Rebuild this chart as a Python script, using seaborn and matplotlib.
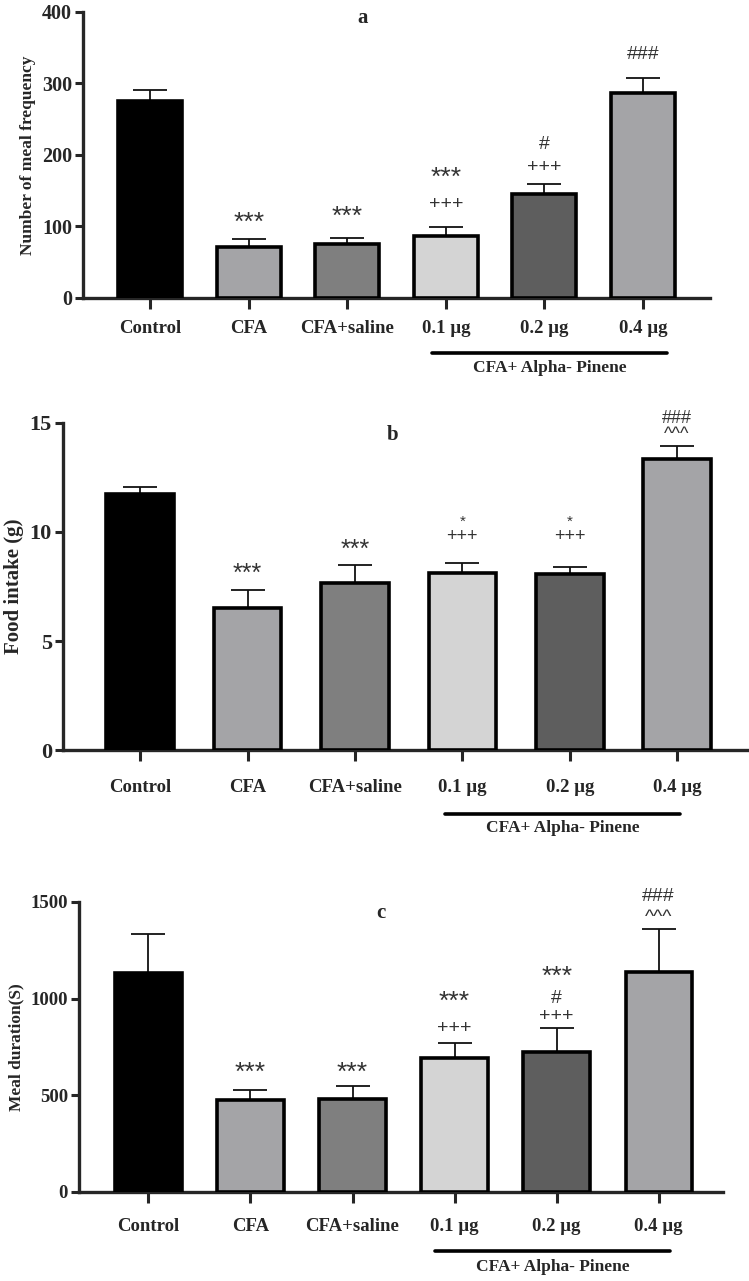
import numpy as np
import pandas as pd
import matplotlib
matplotlib.use("Agg")
import matplotlib.pyplot as plt
import seaborn as sns


# Groups and bar colours
groups = ["Control", "CFA", "CFA+saline", "0.1 \u00b5g", "0.2 \u00b5g", "0.4 \u00b5g"]
colors = ["#000000", "#a3a3a8", "#7f7f7f", "#d4d4d4", "#5e5e5e", "#a3a3a8"]

# Panel a: number of meal frequency
meal_freq = [276, 71, 76, 87, 145, 286]
meal_freq_sem = [15, 11, 8, 12, 14, 21]
anno_a = [(1, 105, "***"), (2, 113, "***"),
          (3, 131, "+++"), (3, 168, "***"),
          (4, 182, "+++"), (4, 215, "#"),
          (5, 341, "###")]

# Panel b: food intake (g)
food_intake = [11.75, 6.5, 7.65, 8.1, 8.08, 13.35]
food_intake_sem = [0.32, 0.84, 0.82, 0.5, 0.3, 0.6]
anno_b = [(1, 8.1, "***"), (2, 9.2, "***"),
          (3, 9.8, "+++"), (3, 10.45, "*"),
          (4, 9.8, "+++"), (4, 10.45, "*"),
          (5, 14.45, "^^^"), (5, 15.2, "###")]

# Panel c: meal duration (s)
meal_dur = [1135, 475, 483, 693, 724, 1140]
meal_dur_sem = [198, 53, 65, 78, 124, 218]
anno_c = [(1, 615, "***"), (2, 615, "***"),
          (3, 848, "+++"), (3, 984, "***"),
          (4, 910, "+++"), (4, 1003, "#"), (4, 1114, "***"),
          (5, 1417, "^^^"), (5, 1526, "###")]

sns.set_style("ticks")
plt.rcParams["font.family"] = ["Liberation Serif", "DejaVu Serif"]
plt.rcParams["font.weight"] = "bold"

fig = plt.figure(figsize=(7.49, 12.81), dpi=100)


def draw_panel(ax, values, sems, annos, ymax, yticks, ylabel, letter,
               xlim, width, ylab_size, ytick_size, xpad, anno_sizes,
               letter_pos, bracket):
    df = pd.DataFrame({"group": groups, "value": values})
    sns.barplot(data=df, x="group", y="value", hue="group",
                palette=colors, width=width, edgecolor="black",
                linewidth=2.6, legend=False, ax=ax, zorder=3)

    ax.errorbar(np.arange(len(groups)), values,
                yerr=[np.zeros(len(sems)), sems],
                fmt="none", ecolor="#111111", elinewidth=1.3,
                capsize=12, capthick=1.3, zorder=2)

    for i, y, s in annos:
        fs = anno_sizes.get(s[0], 13)
        ax.text(i, y, s, ha="center", va="center", fontsize=fs,
                family=["Liberation Sans", "DejaVu Sans"],
                fontweight="normal", color="#333333")

    ax.set_xlim(*xlim)
    ax.set_ylim(0, ymax)
    ax.set_yticks(yticks)
    ax.set_yticklabels([str(t) for t in yticks], fontsize=ytick_size,
                       fontweight="bold")
    ax.set_xticks(range(len(groups)))
    ax.set_xticklabels(groups, fontsize=13.5, fontweight="bold")
    ax.set_xlabel("")
    ax.set_ylabel(ylabel, fontsize=ylab_size, fontweight="bold", labelpad=4)

    for side in ["top", "right"]:
        ax.spines[side].set_visible(False)
    for side in ["left", "bottom"]:
        ax.spines[side].set_linewidth(2.4)
    ax.tick_params(axis="y", length=6, width=2.2, pad=2)
    ax.tick_params(axis="x", length=8, width=2.2, pad=xpad)

    ax.text(letter_pos[0], letter_pos[1], letter,
            transform=ax.get_xaxis_transform(), ha="center", va="center",
            fontsize=15, fontweight="bold")

    x0, x1, yl, yt = bracket
    ax.plot([x0, x1], [yl, yl], color="black", lw=2.6,
            transform=ax.get_xaxis_transform(), clip_on=False)
    ax.text((x0 + x1) / 2, yt, "CFA+ Alpha- Pinene",
            transform=ax.get_xaxis_transform(), ha="center", va="center",
            fontsize=12.5, fontweight="bold")


# a
ax_a = fig.add_axes([0.1108, 0.7674, 0.8372, 0.2233])
draw_panel(ax_a, meal_freq, meal_freq_sem, anno_a, 400,
           [0, 100, 200, 300, 400], "Number of meal frequency", "a",
           (-0.68, 5.68), 0.65, 12.5, 14.5, 8,
           {"*": 19, "+": 14, "#": 14},
           (2.16, 0.979), (2.86, 5.24, -0.192, -0.245))

# b
ax_b = fig.add_axes([0.0841, 0.4145, 0.9159, 0.2553])
draw_panel(ax_b, food_intake, food_intake_sem, anno_b, 15,
           [0, 5, 10, 15], "Food intake (g)", "b",
           (-0.72, 5.67), 0.63, 15, 16, 13,
           {"*": 18, "+": 13, "#": 13, "^": 13},
           (2.35, 0.963), (2.84, 5.03, -0.196, -0.239))
for t in ax_b.texts:
    if t.get_text() == "*":
        t.set_fontsize(11)

# c
ax_c = fig.add_axes([0.1055, 0.0695, 0.8598, 0.2264])
draw_panel(ax_c, meal_dur, meal_dur_sem, anno_c, 1500,
           [0, 500, 1000, 1500], "Meal duration(S)", "c",
           (-0.68, 5.63), 0.65, 12.5, 13.5, 11,
           {"*": 19, "+": 14, "#": 14, "^": 14},
           (2.28, 0.962), (2.81, 5.11, -0.203, -0.259))

fig.savefig("out.png", dpi=100)
